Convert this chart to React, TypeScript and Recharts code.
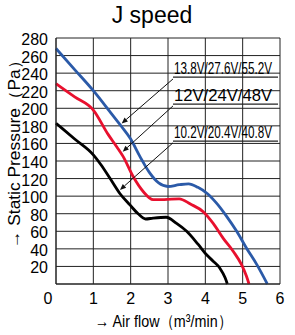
import React from 'react';
import { LineChart, Line, XAxis, YAxis, CartesianGrid, ReferenceLine, Label } from 'recharts';

const title = 'J speed';
const xTicks = [0, 1, 2, 3, 4, 5, 6];
const yTicks = [0, 20, 40, 60, 80, 100, 120, 140, 160, 180, 200, 220, 240, 260, 280];

const blueData = [
  { x: 0, y: 268 }, { x: 0.5, y: 244 }, { x: 1, y: 220 }, { x: 1.5, y: 193 }, { x: 1.76, y: 179 },
  { x: 2.0, y: 165 }, { x: 2.25, y: 145 }, { x: 2.5, y: 127 }, { x: 2.75, y: 115 }, { x: 3.0, y: 111 },
  { x: 3.3, y: 113 }, { x: 3.55, y: 114 }, { x: 3.8, y: 110 }, { x: 4.05, y: 103 }, { x: 4.3, y: 92 },
  { x: 4.57, y: 77 }, { x: 4.84, y: 60 }, { x: 5.1, y: 41 }, { x: 5.38, y: 22 }, { x: 5.66, y: 0 },
];
const redData = [
  { x: 0, y: 228 }, { x: 0.5, y: 213 }, { x: 1, y: 198 }, { x: 1.4, y: 170 }, { x: 1.63, y: 156 },
  { x: 1.8, y: 145 }, { x: 2.07, y: 122 }, { x: 2.34, y: 105 }, { x: 2.6, y: 96 }, { x: 2.9, y: 96 },
  { x: 3.3, y: 97 }, { x: 3.6, y: 91 }, { x: 3.95, y: 82 }, { x: 4.21, y: 69 }, { x: 4.48, y: 52 },
  { x: 4.75, y: 37 }, { x: 4.97, y: 22 }, { x: 5.1, y: 9 }, { x: 5.17, y: 0 },
];
const blackData = [
  { x: 0, y: 183 }, { x: 0.5, y: 165 }, { x: 1, y: 147 }, { x: 1.2, y: 136 }, { x: 1.45, y: 120 },
  { x: 1.71, y: 103 }, { x: 1.98, y: 90 }, { x: 2.2, y: 80 }, { x: 2.4, y: 74 }, { x: 2.6, y: 75 },
  { x: 2.95, y: 76 }, { x: 3.23, y: 69 }, { x: 3.5, y: 60 }, { x: 3.81, y: 45 }, { x: 4.04, y: 33 },
  { x: 4.21, y: 26 }, { x: 4.39, y: 18 }, { x: 4.53, y: 7 }, { x: 4.59, y: 0 },
];

const labelTexts = ['13.8V/27.6V/55.2V', '12V/24V/48V', '10.2V/20.4V/40.8V'];
const labelY = [235.4, 204.7, 162.7];
const arrowTips = [
  { x: 1.76, y: 182.8 },
  { x: 1.787, y: 150.6 },
  { x: 1.714, y: 107.1 },
];
const labelX0 = 3.134;
const labelX1 = 5.947;

const FONT = '"Liberation Sans", Arial, Helvetica, sans-serif';

const ArrowShape = (p: any) => {
  const { x1, y1, x2, y2 } = p;
  const ang = Math.atan2(y2 - y1, x2 - x1);
  const L = 6;
  const W = 2.6;
  const bx = x2 - L * Math.cos(ang);
  const by = y2 - L * Math.sin(ang);
  const px = -Math.sin(ang) * W;
  const py = Math.cos(ang) * W;
  return (
    <g>
      <line x1={x1} y1={y1} x2={bx} y2={by} stroke="#111" strokeWidth={1} />
      <polygon points={`${x2},${y2} ${bx + px},${by + py} ${bx - px},${by - py}`} fill="#111" />
    </g>
  );
};

const makeLabel = (text: string) => (props: any) => {
  const vb = props.viewBox || {};
  return (
    <text
      x={vb.x + 1}
      y={vb.y - 3}
      fontSize={16}
      fontFamily={FONT}
      fill="#000"
      textLength={98}
      lengthAdjust="spacingAndGlyphs"
    >
      {text}
    </text>
  );
};

const XTick = (props: any) => {
  const { x, y, payload } = props;
  const shift = payload.value === 0 ? -8 : 0;
  return (
    <text x={x + shift} y={y} dy={12} textAnchor="middle" fontSize={16} fontFamily={FONT} fill="#000">
      {payload.value}
    </text>
  );
};

const YTick = (props: any) => {
  const { x, y, payload } = props;
  if (payload.value === 0) return null;
  return (
    <text x={x} y={y} dy={7} textAnchor="end" fontSize={16} fontFamily={FONT} fill="#000">
      {payload.value}
    </text>
  );
};

const YLabel = (props: any) => {
  const cx = 20;
  const cy = 150;
  return (
    <text
      x={cx}
      y={cy}
      transform={`rotate(-90 ${cx} ${cy})`}
      textAnchor="middle"
      fontSize={16}
      fontFamily={FONT}
      fill="#000"
      textLength={196}
      lengthAdjust="spacingAndGlyphs"
    >
      → Static Pressure（Pa）
    </text>
  );
};

const XLabel = (props: any) => {
  return (
    <text
      x={95}
      y={327}
      fontSize={17}
      fontFamily={FONT}
      fill="#000"
      textLength={137}
      lengthAdjust="spacingAndGlyphs"
    >
      → Air flow（m³/min）
    </text>
  );
};

export default function App() {
  return (
    <div style={{ position: 'absolute', left: 0, top: 0, width: 295, height: 335, background: '#fff' }}>
      <div
        style={{
          position: 'absolute',
          left: 152,
          top: 4,
          transform: 'translateX(-50%)',
          fontFamily: FONT,
          fontSize: 23,
          lineHeight: '23px',
          whiteSpace: 'nowrap',
          color: '#000',
        }}
      >
        {title}
      </div>
      <LineChart width={295} height={335} margin={{ top: 38, right: 15, bottom: 0, left: 0 }}>
        <CartesianGrid stroke="#222" strokeWidth={1} />
        <XAxis
          type="number"
          dataKey="x"
          domain={[0, 6]}
          ticks={xTicks}
          height={51}
          tickLine={false}
          axisLine={{ stroke: '#222' }}
          tick={<XTick />}
          interval={0}
        >
          <Label content={<XLabel />} />
        </XAxis>
        <YAxis
          type="number"
          domain={[0, 280]}
          ticks={yTicks}
          width={56}
          tickLine={false}
          axisLine={{ stroke: '#222' }}
          tick={<YTick />}
          interval={0}
        >
          <Label content={<YLabel />} />
        </YAxis>
        <Line data={blackData} dataKey="y" type="monotone" stroke="#000" strokeWidth={2.8} dot={false} isAnimationActive={false} />
        <Line data={redData} dataKey="y" type="monotone" stroke="#e8102e" strokeWidth={2.8} dot={false} isAnimationActive={false} />
        <Line data={blueData} dataKey="y" type="monotone" stroke="#2b5aa8" strokeWidth={2.8} dot={false} isAnimationActive={false} />
        {labelTexts.map((t, i) => (
          <ReferenceLine
            key={'u' + i}
            segment={[{ x: labelX0, y: labelY[i] }, { x: labelX1, y: labelY[i] }]}
            stroke="#222"
            strokeWidth={1.2}
            label={{ content: makeLabel(t) } as any}
          />
        ))}
        {labelTexts.map((t, i) => (
          <ReferenceLine
            key={'a' + i}
            segment={[{ x: labelX0, y: labelY[i] - 2 }, { x: arrowTips[i].x, y: arrowTips[i].y }]}
            shape={ArrowShape}
          />
        ))}
      </LineChart>
    </div>
  );
}
